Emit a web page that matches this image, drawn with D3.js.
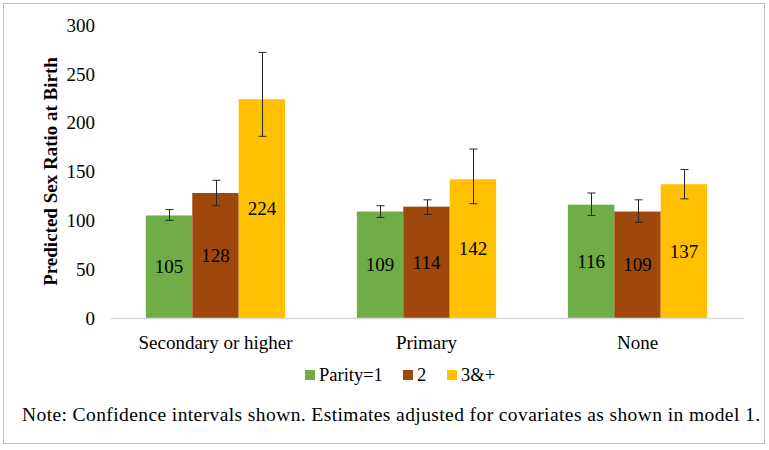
<!DOCTYPE html>
<html>
<head>
<meta charset="utf-8">
<script src="https://cdn.jsdelivr.net/npm/d3@7"></script>
<style>
  html, body { margin: 0; padding: 0; background: #fff; }
  svg { display: block; }
  svg text { font-family: "Liberation Serif", "Times New Roman", Times, "DejaVu Serif", serif !important; }
</style>
</head>
<body>
<svg id="chart" width="769" height="450"></svg>
<script>
// ---- data ----
const categories = ["Secondary or higher", "Primary", "None"];
const seriesNames = ["Parity=1", "2", "3&+"];
const parity1 = [105, 109, 116];
const parity2 = [128, 114, 109];
const parity3 = [224, 142, 137];
const lower1 = [100, 103, 105];
const upper1 = [111, 115, 128];
const lower2 = [115, 106, 98];
const upper2 = [141, 121, 121];
const lower3 = [186, 117, 122];
const upper3 = [272, 173, 152];
const yTicks = [0, 50, 100, 150, 200, 250, 300];
const colors = ["#70AD47", "#9E480E", "#FFC000"];
const yTitle = "Predicted Sex Ratio at Birth";
const note = "Note: Confidence intervals shown. Estimates adjusted for covariates as shown in model 1.";

const values = [parity1, parity2, parity3];
const lowers = [lower1, lower2, lower3];
const uppers = [upper1, upper2, upper3];

const rows = [];
categories.forEach((c, ci) => {
  seriesNames.forEach((s, si) => {
    rows.push({cat: c, ser: s, si: si, v: values[si][ci], lo: lowers[si][ci], hi: uppers[si][ci]});
  });
});

const svg = d3.select("#chart");

// outer border
svg.append("rect").attr("x", 3.5).attr("y", 3.5).attr("width", 761).attr("height", 440)
  .attr("fill", "#fff").attr("stroke", "#BFBFBF").attr("stroke-width", 1);

const plot = {left: 110, right: 743, top: 25, bottom: 318};

const x0 = d3.scaleBand().domain(categories).range([plot.left, plot.right])
  .paddingInner(0.34).paddingOuter(0.17);
const x1 = d3.scaleBand().domain(seriesNames).range([0, x0.bandwidth()]);
const y = d3.scaleLinear().domain([0, 300]).range([plot.bottom, plot.top]);

// y axis tick labels
const yAxis = d3.axisLeft(y).tickValues(yTicks).tickSize(0).tickPadding(0);
const yg = svg.append("g").attr("transform", `translate(95,0)`).call(yAxis);
yg.select(".domain").remove();
yg.selectAll("text").attr("font-size", 19).attr("fill", "#000").attr("dy", "0.33em");

// bars
svg.append("g").selectAll("rect").data(rows).join("rect")
  .attr("x", d => x0(d.cat) + x1(d.ser))
  .attr("y", d => y(d.v))
  .attr("width", x1.bandwidth())
  .attr("height", d => y(0) - y(d.v))
  .attr("fill", d => colors[d.si]);

// x axis line
const xAxis = d3.axisBottom(x0).tickSize(0).tickPadding(0);
const xg = svg.append("g").attr("transform", `translate(0,${plot.bottom})`).call(xAxis);
xg.select(".domain").attr("stroke", "#D9D9D9").attr("stroke-width", 1.3);
xg.selectAll("text").attr("font-size", 19).attr("fill", "#000").attr("y", 24.7).attr("dy", "0.33em");

// data labels
svg.append("g").selectAll("text").data(rows).join("text")
  .attr("x", d => x0(d.cat) + x1(d.ser) + x1.bandwidth() / 2)
  .attr("y", d => (y(d.v) + y(0)) / 2)
  .attr("dy", "0.35em")
  .attr("text-anchor", "middle")
  .attr("font-size", 19)
  .attr("fill", "#000")
  .text(d => d.v);

// error bars
const eg = svg.append("g").attr("stroke", "#262626").attr("stroke-width", 1);
rows.forEach(d => {
  const cx = Math.round(x0(d.cat) + x1(d.ser) + x1.bandwidth() / 2) + 0.5;
  eg.append("line").attr("x1", cx).attr("x2", cx).attr("y1", y(d.hi)).attr("y2", y(d.lo));
  eg.append("line").attr("x1", cx - 4).attr("x2", cx + 4).attr("y1", y(d.hi)).attr("y2", y(d.hi));
  eg.append("line").attr("x1", cx - 4).attr("x2", cx + 4).attr("y1", y(d.lo)).attr("y2", y(d.lo));
});

// y title
svg.append("text")
  .attr("transform", `translate(50,${(plot.top + plot.bottom) / 2}) rotate(-90)`)
  .attr("text-anchor", "middle")
  .attr("dy", "0.35em")
  .attr("font-weight", "bold")
  .attr("font-size", 19)
  .attr("fill", "#000")
  .text(yTitle);

// legend
const legendItems = [
  {name: seriesNames[0], x: 305},
  {name: seriesNames[1], x: 403},
  {name: seriesNames[2], x: 447}
];
const lg = svg.append("g");
legendItems.forEach((it, i) => {
  lg.append("rect").attr("x", it.x).attr("y", 370).attr("width", 10).attr("height", 10).attr("fill", colors[i]);
  lg.append("text").attr("x", it.x + 14).attr("y", 375).attr("dy", "0.33em")
    .attr("font-size", 18.5).attr("fill", "#000").text(it.name);
});

// note
svg.append("text")
  .attr("x", 22).attr("y", 415).attr("dy", "0.33em")
  .attr("font-size", 19.5)
  .attr("fill", "#000")
  .attr("textLength", 738)
  .attr("lengthAdjust", "spacing")
  .text(note);
</script>
</body>
</html>
